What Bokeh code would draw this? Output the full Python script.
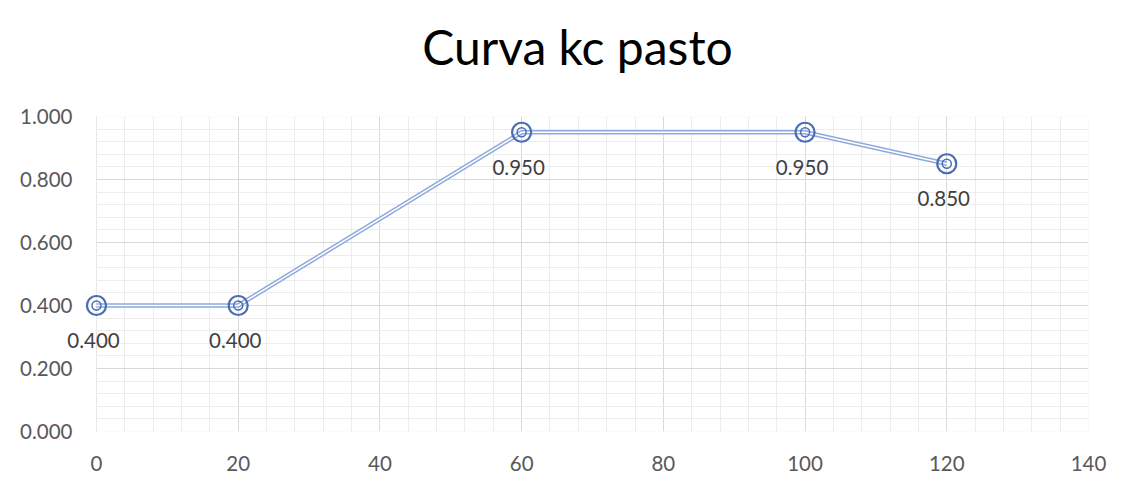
from bokeh.plotting import figure
from bokeh.models import (ColumnDataSource, NumeralTickFormatter, FixedTicker, Range1d,
                          Label, BoxAnnotation, LinearAxis)
from bokeh.embed import file_html
from bokeh.resources import INLINE

title_text = "Curva kc pasto"
days = [0, 20, 60, 100, 120]
kc = [0.400, 0.400, 0.950, 0.950, 0.850]
kc_labels = ["0.400", "0.400", "0.950", "0.950", "0.850"]
x_ticks = [0, 20, 40, 60, 80, 100, 120, 140]
y_ticks = [0.0, 0.2, 0.4, 0.6, 0.8, 1.0]
x_min, x_max = 0, 140
y_min, y_max = 0.0, 1.0

src = ColumnDataSource(dict(x=days, y=kc, lab=kc_labels))

plot_w = 992          # pixel width of the area from x_min to x_max
pad = 30              # extra frame space to the left so the first marker/label isn't clipped
x_start = x_min - pad * (x_max - x_min) / plot_w

p = figure(width=1119, height=476, output_backend="svg", toolbar_location=None,
           x_range=Range1d(x_start, x_max), y_range=Range1d(y_min, y_max),
           min_border_left=96 - pad, min_border_right=31, min_border_top=116, min_border_bottom=45)

bottom_axis = p.below[0]
left_axis = p.left[0]

for ax in (bottom_axis, left_axis):
    ax.axis_line_color = None
    ax.major_tick_line_color = None
    ax.minor_tick_line_color = None
    ax.major_label_text_font = "Lato"
    ax.major_label_text_font_size = "20.5px"
    ax.major_label_text_color = "#595959"

bottom_axis.ticker = FixedTicker(ticks=x_ticks, minor_ticks=list(range(0, 141, 4)))
left_axis.ticker = FixedTicker(ticks=y_ticks, minor_ticks=[i * 0.04 for i in range(26)])
left_axis.formatter = NumeralTickFormatter(format="0.000")
bottom_axis.major_label_standoff = 18
left_axis.major_label_standoff = 18 - pad

# chart title, carried by an empty axis above the plot so it can sit high in the top margin
top_axis = LinearAxis(ticker=FixedTicker(ticks=[], minor_ticks=[]), axis_label=title_text,
                      axis_line_color=None, major_tick_line_color=None,
                      minor_tick_line_color=None, major_tick_in=0, major_tick_out=0,
                      minor_tick_in=0, minor_tick_out=0,
                      major_label_standoff=0, major_label_text_font_size="0px",
                      axis_label_standoff=42,
                      axis_label_text_font="Lato", axis_label_text_font_size="48px",
                      axis_label_text_font_style="normal", axis_label_text_color="#000000")
p.add_layout(top_axis, "above")

p.xgrid.grid_line_color = "#d9d9d9"
p.ygrid.grid_line_color = "#d9d9d9"
p.xgrid.minor_grid_line_color = "#ececec"
p.ygrid.minor_grid_line_color = "#ececec"
p.outline_line_color = None
p.background_fill_color = "white"

# blank out the padding strip left of x_min, and draw the plot-area border
p.add_layout(BoxAnnotation(right=x_min, fill_color="white", fill_alpha=1.0,
                           line_color=None, level="underlay"))
p.add_layout(BoxAnnotation(left=x_min, right=x_max, bottom=y_min, top=y_max,
                           fill_alpha=0.0, line_color="#d9d9d9", line_width=1,
                           level="underlay"))

p.line("x", "y", source=src, line_color="#8faadc", line_width=4.5)
p.line("x", "y", source=src, line_color="white", line_width=1.5)
p.scatter("x", "y", source=src, size=19, fill_color="white", fill_alpha=0.0,
          line_color="#4a6db5", line_width=2.2)
p.scatter("x", "y", source=src, size=9, fill_color=None,
          line_color="#4a6db5", line_width=1.5)

for xv, yv, txt in zip(days, kc, kc_labels):
    p.add_layout(Label(x=xv, y=yv, text=txt, x_offset=-3, y_offset=-35,
                       text_align="center", text_baseline="middle",
                       text_font="Lato", text_font_size="20.5px", text_color="#404040"))

open("out.html", "w").write(file_html(p, INLINE))
